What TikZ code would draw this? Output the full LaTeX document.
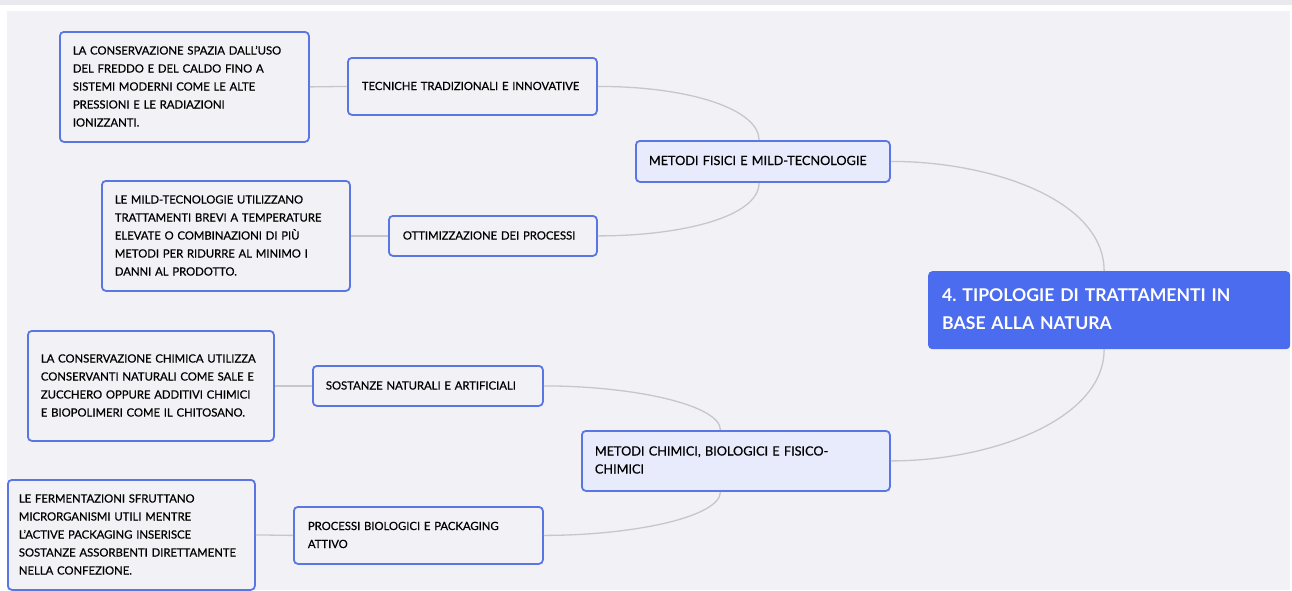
\documentclass[tikz,border=0pt]{standalone}
\usepackage{fontspec}
\setmainfont{Lato}[FakeBold=0.6]
\newfontfamily\rootfont{Lato}
\usetikzlibrary{calc}
\frenchspacing
\definecolor{panel}{HTML}{F2F2F6}
\definecolor{strip}{HTML}{E9E9EE}
\definecolor{bordc}{HTML}{5A76E4}
\definecolor{midfill}{HTML}{E7EBFB}
\definecolor{rootfill}{HTML}{4C6CF0}
\definecolor{linkc}{HTML}{C6C6CB}
% lines of a box, kept on their own rows
\newcommand{\rows}[1]{\begin{tabular}{@{}l@{}}#1\end{tabular}}
\begin{document}
\begin{tikzpicture}[x=1pt,y=-1pt,
  box/.style={draw=bordc, line width=1.8pt, rounded corners=4pt, fill=panel,
    align=left, anchor=north west, inner xsep=13pt, inner ysep=0pt,
    font=\fontsize{11.3}{18}\selectfont},
  midbox/.style={box, fill=midfill, font=\fontsize{12.7}{18}\selectfont},
  rootbox/.style={fill=rootfill, rounded corners=4pt, anchor=north west,
    align=left, inner xsep=14pt, inner ysep=0pt, text=white,
    font=\rootfont\fontsize{17.6}{28}\selectfont\bfseries},
  link/.style={draw=linkc, line width=1.3pt}]
% page and panel
\useasboundingbox (0,0) rectangle (1292,590);
\fill[white] (0,0) rectangle (1292,590);
\fill[strip] (0,0) rectangle (1292,5);
\fill[panel] (7,11) rectangle (1290,590);

% central topic
\node[rootbox, text width=334pt, minimum height=78pt] (root) at (928,271)
  {\rows{4. TIPOLOGIE DI TRATTAMENTI IN\\BASE ALLA NATURA}};

% main branches
\node[midbox, text width=228pt, minimum height=41pt] (m1) at (635,140)
  {\rows{METODI FISICI E MILD-TECNOLOGIE}};
\node[midbox, text width=282pt, minimum height=60pt] (m2) at (581,430)
  {\rows{METODI CHIMICI, BIOLOGICI E FISICO-\\CHIMICI}};

% sub-branches
\node[box, text width=221pt, minimum height=57pt, inner xsep=14pt] (l1) at (347,57)
  {\rows{TECNICHE TRADIZIONALI E INNOVATIVE}};
\node[box, text width=180pt, minimum height=40pt, inner xsep=14pt] (l2) at (388,215)
  {\rows{OTTIMIZZAZIONE DEI PROCESSI}};
\node[box, text width=204pt, minimum height=40pt] (l3) at (312,365)
  {\rows{SOSTANZE NATURALI E ARTIFICIALI}};
\node[box, text width=221pt, minimum height=57pt, inner xsep=14pt] (l4) at (293,506)
  {\rows{PROCESSI BIOLOGICI E PACKAGING\\ATTIVO}};

% descriptions
\node[box, text width=223pt, minimum height=110pt] (d1) at (59,31)
  {\rows{LA CONSERVAZIONE SPAZIA DALL'USO\\DEL FREDDO E DEL CALDO FINO A\\SISTEMI MODERNI COME LE ALTE\\PRESSIONI E LE RADIAZIONI\\IONIZZANTI.}};
\node[box, text width=222pt, minimum height=110pt] (d2) at (101,180)
  {\rows{LE MILD-TECNOLOGIE UTILIZZANO\\TRATTAMENTI BREVI A TEMPERATURE\\ELEVATE O COMBINAZIONI DI PIÙ\\METODI PER RIDURRE AL MINIMO I\\DANNI AL PRODOTTO.}};
\node[box, text width=220pt, minimum height=110pt] (d3) at (27,330)
  {\rows{LA CONSERVAZIONE CHIMICA UTILIZZA\\CONSERVANTI NATURALI COME SALE E\\ZUCCHERO OPPURE ADDITIVI CHIMICI\\E BIOPOLIMERI COME IL CHITOSANO.}};
\node[box, text width=225pt, minimum height=110pt, inner xsep=11pt] (d4) at (7,479)
  {\rows{LE FERMENTAZIONI SFRUTTANO\\MICRORGANISMI UTILI MENTRE\\L'ACTIVE PACKAGING INSERISCE\\SOSTANZE ASSORBENTI DIRETTAMENTE\\NELLA CONFEZIONE.}};

% anchor points on the box edges
\coordinate (rt) at ($(root.north west)!0.486!(root.north east)$);
\coordinate (rb) at ($(root.south west)!0.486!(root.south east)$);
\coordinate (m1t) at ($(m1.north west)!0.485!(m1.north east)$);
\coordinate (m1b) at ($(m1.south west)!0.485!(m1.south east)$);
\coordinate (m2t) at ($(m2.north west)!0.45!(m2.north east)$);
\coordinate (m2b) at ($(m2.south west)!0.45!(m2.south east)$);

% connectors
\path[link] (m1.east) .. controls +(101,0) and +(0,-71) .. (rt);
\path[link] (m2.east) .. controls +(101,0) and +(0,70) .. (rb);
\path[link] (l1.east) .. controls +(94,0) and +(0,-30) .. (m1t);
\path[link] (l2.east) .. controls +(84,0) and +(0,34) .. (m1b);
\path[link] (l3.east) .. controls +(90,0) and +(0,-25) .. (m2t);
\path[link] (l4.east) .. controls +(90,0) and +(0,25) .. (m2b);
\path[link] (d1.east) -- (l1.west);
\path[link] (d2.east) -- (l2.west);
\path[link] (d3.east) -- (l3.west);
\path[link] (d4.east) -- (l4.west);
\end{tikzpicture}
\end{document}
